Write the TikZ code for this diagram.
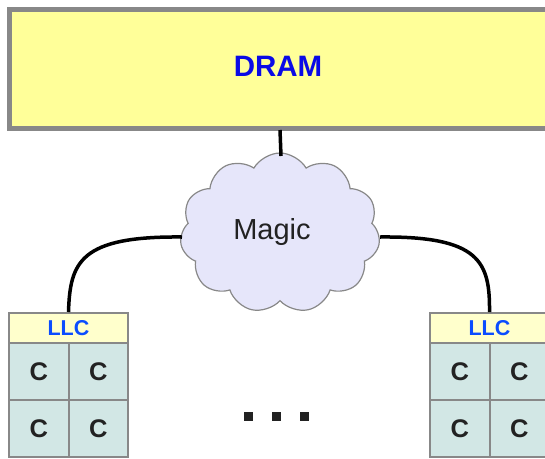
\documentclass[tikz,border=0pt]{standalone}
\usepackage{fontspec}
\setmainfont{Liberation Sans}
\usetikzlibrary{shapes.symbols}
\definecolor{dramfill}{HTML}{FFFF99}
\definecolor{framegray}{HTML}{888888}
\definecolor{llcfill}{HTML}{FFFFCC}
\definecolor{corefill}{HTML}{D2E7E5}
\definecolor{cloudfill}{HTML}{E6E6FA}
\definecolor{dramblue}{HTML}{0A0AE6}
\definecolor{llcblue}{HTML}{0A4CFF}
\definecolor{coretext}{HTML}{222222}
\tikzset{
  dramboxstyle/.style={draw=framegray, line width=4.5pt, fill=dramfill},
  llcbox/.style={draw=framegray, line width=2pt, fill=llcfill, inner sep=0pt,
    minimum width=119pt, minimum height=30pt,
    font=\fontsize{21.5}{23}\selectfont\bfseries, text=llcblue},
  corebox/.style={draw=framegray, line width=2pt, fill=corefill, inner sep=0pt,
    minimum width=59.5pt, minimum height=57pt,
    font=\fontsize{25.5}{27}\selectfont\bfseries, text=coretext},
  wire/.style={line width=3.5pt, black},
  dotsq/.style={fill=coretext, inner sep=0pt, minimum size=9pt},
}
\begin{document}
\begin{tikzpicture}[x=1pt, y=-1pt]
  \useasboundingbox (0,0) rectangle (545,458);
  \clip (0,0) rectangle (545,458);

  % main memory
  \draw[dramboxstyle] (9.5,9.5) rectangle (570,128.5);
  \node[font=\fontsize{29.5}{31}\selectfont\bfseries, text=dramblue] (dram) at (278,66) {DRAM};
  \coordinate (dramb) at (280,130);

  % interconnect cloud and its label
  \node[cloud, cloud puffs=11, cloud puff arc=120, aspect=1.25,
        draw=framegray, line width=1.2pt, fill=cloudfill,
        minimum width=200pt, minimum height=160pt, inner sep=0pt] (magic) at (280,233) {};
  \node[font=\fontsize{29}{31}\selectfont, text=coretext] (magiclabel) at (272,232) {Magic};
  \coordinate (cw) at (182,237);
  \coordinate (ce) at (380,237);
  \coordinate (cn) at (281,156);

  % left socket
  \node[llcbox] (llcL) at (68.5,328) {LLC};
  \node[corebox] (cL11) at (38.75,371.5) {C};
  \node[corebox] (cL12) at (98.25,371.5) {C};
  \node[corebox] (cL21) at (38.75,428.5) {C};
  \node[corebox] (cL22) at (98.25,428.5) {C};

  % right socket
  \node[llcbox] (llcR) at (489.5,328) {LLC};
  \node[corebox] (cR11) at (459.75,371.5) {C};
  \node[corebox] (cR12) at (519.25,371.5) {C};
  \node[corebox] (cR21) at (459.75,428.5) {C};
  \node[corebox] (cR22) at (519.25,428.5) {C};

  % connections
  \draw[wire] (dramb) -- (cn);
  \draw[wire] (cw) .. controls (80,236) and (70,262) .. (llcL.north);
  \draw[wire] (ce) .. controls (480,236) and (490,262) .. (llcR.north);

  % ellipsis between sockets
  \node[dotsq] (d1) at (248,416) {};
  \node[dotsq] (d2) at (276,416) {};
  \node[dotsq] (d3) at (304,416) {};
\end{tikzpicture}
\end{document}
